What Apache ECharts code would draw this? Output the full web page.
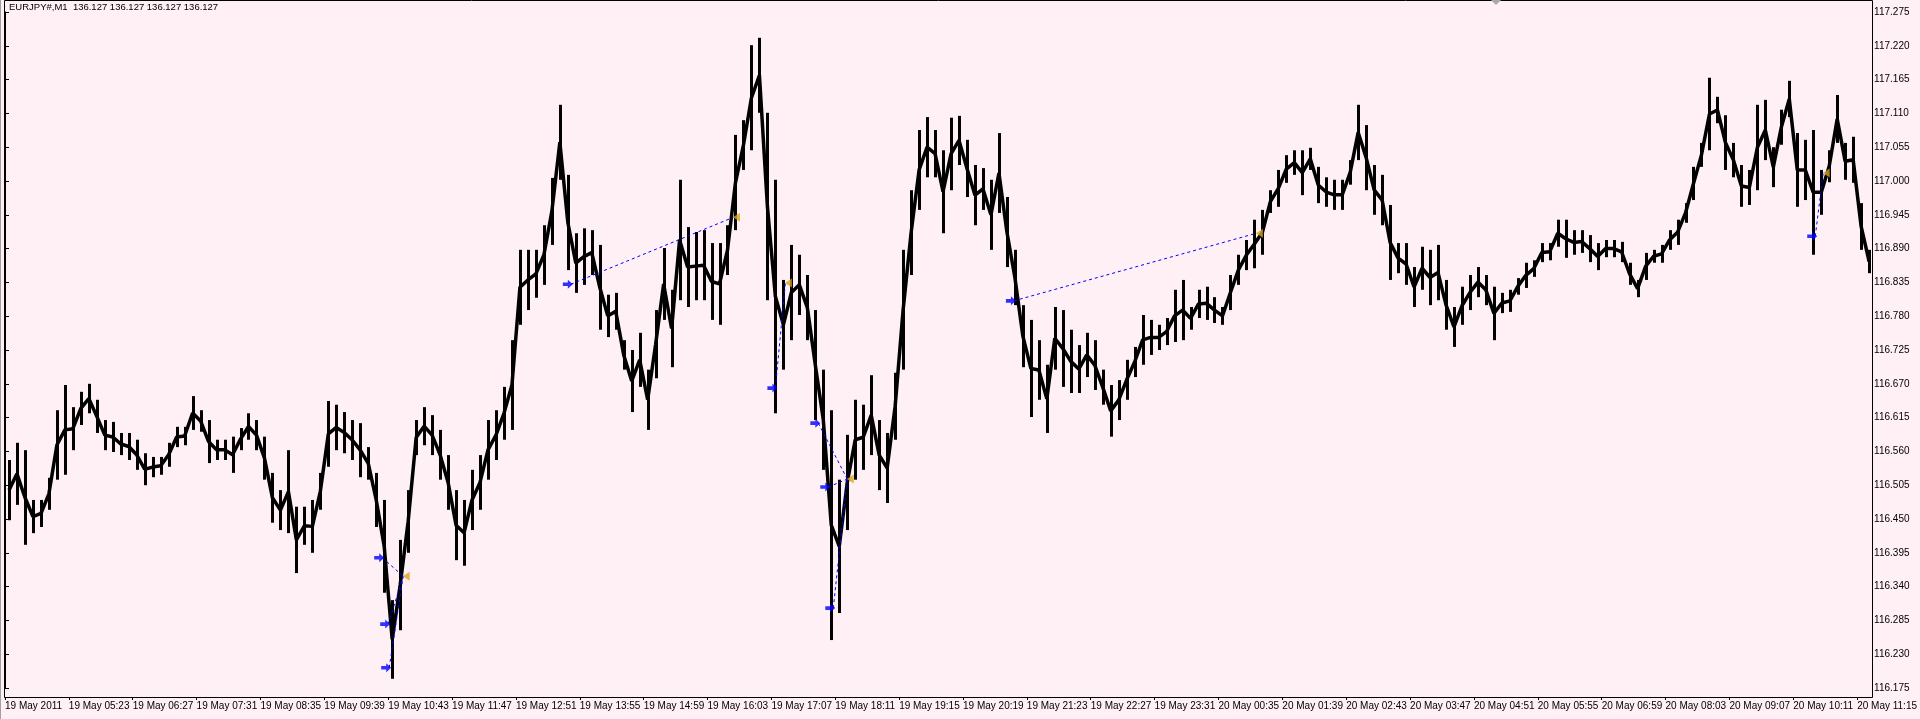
<!DOCTYPE html>
<html><head><meta charset="utf-8">
<script src="https://cdn.jsdelivr.net/npm/echarts@6/dist/echarts.min.js"></script>
<style>html,body{margin:0;padding:0;background:#FFF0F5;}#c{width:1920px;height:719px;}</style>
</head><body><div id="c"></div>
<script>
// Bars per sample (M1 bars), each sample gives high/low envelope
const samplesStep = 8;
const hi = [116.546,116.574,116.562,116.481,116.481,116.517,116.627,116.668,116.632,116.657,116.670,116.644,116.611,116.608,116.590,116.590,116.579,116.557,116.551,116.551,
116.574,116.600,116.600,116.650,116.627,116.611,116.579,116.579,116.584,116.598,116.622,116.611,116.584,116.525,116.497,116.562,116.470,116.470,116.481,116.525,
116.642,116.636,116.624,116.611,116.606,116.567,116.525,116.481,116.318,116.416,116.497,116.611,116.632,116.619,116.595,116.554,116.497,116.481,116.530,116.554,
116.611,116.627,116.665,116.741,116.888,116.888,116.888,116.928,117.005,117.124,117.010,116.915,116.923,116.920,116.896,116.815,116.818,116.741,116.725,116.753,
116.693,116.790,116.891,116.823,117.002,116.925,116.917,116.920,116.899,116.899,116.928,117.075,117.099,117.221,117.233,117.111,117.002,116.839,116.896,116.880,
116.847,116.790,116.693,116.627,116.514,116.587,116.644,116.636,116.684,116.611,116.590,116.688,116.888,116.985,117.083,117.104,117.083,117.050,117.103,117.106,
117.067,117.026,117.021,117.002,117.078,116.974,116.888,116.798,116.774,116.741,116.701,116.795,116.790,116.758,116.733,116.753,116.741,116.693,116.668,116.676,
116.709,116.730,116.782,116.774,116.766,116.777,116.823,116.839,116.795,116.823,116.828,116.811,116.795,116.847,116.880,116.904,116.937,116.953,116.985,117.018,
117.042,117.050,117.050,117.054,117.023,117.006,117.002,117.002,117.034,117.124,117.091,117.026,117.010,116.961,116.899,116.899,116.860,116.893,116.888,116.896,
116.839,116.795,116.828,116.847,116.860,116.847,116.828,116.818,116.823,116.842,116.867,116.871,116.899,116.899,116.937,116.937,116.920,116.920,116.912,116.899,
116.904,116.904,116.901,116.867,116.839,116.883,116.888,116.896,116.920,116.937,116.964,117.023,117.062,117.168,117.137,117.107,117.062,117.026,117.018,117.124,
117.132,117.055,117.116,117.163,117.078,117.067,117.083,117.018,117.050,117.140,117.062,117.072,116.964,116.888];
const lo = [116.448,116.473,116.408,116.427,116.437,116.465,116.514,116.522,116.562,116.603,116.622,116.590,116.562,116.559,116.554,116.546,116.530,116.505,116.518,116.522,
116.535,116.567,116.570,116.595,116.592,116.541,116.546,116.546,116.525,116.562,116.579,116.562,116.514,116.444,116.432,116.427,116.362,116.408,116.395,116.465,
116.535,116.562,116.557,116.546,116.518,116.514,116.437,116.330,116.190,116.269,116.395,116.554,116.570,116.554,116.514,116.465,116.383,116.374,116.432,116.465,
116.514,116.546,116.579,116.595,116.766,116.790,116.810,116.831,116.896,117.002,116.855,116.818,116.831,116.847,116.758,116.746,116.758,116.693,116.624,116.665,
116.595,116.679,116.774,116.697,116.806,116.795,116.806,116.806,116.774,116.766,116.847,116.920,117.018,117.050,117.111,116.806,116.622,116.693,116.741,116.782,
116.741,116.611,116.530,116.253,116.297,116.432,116.514,116.530,116.554,116.497,116.476,116.579,116.693,116.847,116.953,117.006,117.006,116.915,116.985,117.026,
116.974,116.928,116.953,116.888,116.948,116.860,116.798,116.697,116.616,116.644,116.590,116.693,116.665,116.655,116.655,116.681,116.660,116.636,116.584,116.611,
116.644,116.681,116.701,116.717,116.725,116.733,116.738,116.741,116.758,116.777,116.774,116.769,116.766,116.790,116.831,116.855,116.858,116.880,116.948,116.958,
116.997,117.010,116.977,117.018,116.964,116.958,116.953,116.953,116.994,117.034,116.985,116.945,116.928,116.839,116.850,116.831,116.795,116.823,116.798,116.806,
116.758,116.730,116.766,116.790,116.811,116.798,116.741,116.785,116.787,116.815,116.826,116.844,116.868,116.871,116.893,116.875,116.880,116.883,116.868,116.855,
116.876,116.876,116.868,116.831,116.811,116.839,116.867,116.867,116.888,116.896,116.932,116.969,117.023,117.050,117.094,117.018,117.006,116.958,116.961,116.985,
117.034,116.990,117.059,117.104,116.958,116.969,116.880,116.945,116.998,117.062,117.002,116.997,116.888,116.850];

const xLabels = ['19 May 2011','19 May 05:23','19 May 06:27','19 May 07:31','19 May 08:35','19 May 09:39','19 May 10:43','19 May 11:47',
'19 May 12:51','19 May 13:55','19 May 14:59','19 May 16:03','19 May 17:07','19 May 18:11','19 May 19:15','19 May 20:19','19 May 21:23',
'19 May 22:27','19 May 23:31','20 May 00:35','20 May 01:39','20 May 02:43','20 May 03:47','20 May 04:51','20 May 05:55','20 May 06:59',
'20 May 08:03','20 May 09:07','20 May 10:11','20 May 11:15'];
const barsPerLabel = 64;
const yTicks = [116.175,116.230,116.285,116.340,116.395,116.450,116.505,116.560,116.615,116.670,116.725,116.780,116.835,116.890,116.945,117.000,117.055,117.110,117.165,117.220,117.275];

// Trade markers: open (blue arrow) -> close (gold triangle)
const openBar   = [378, 384, 385, 567, 772, 815, 825, 830, 1011, 1814];
const openPrice = [116.387,116.279,116.208,116.832,116.663,116.606,116.502,116.305,116.805,116.910];
const closeBar  = [399, 399, 399, 730, 782, 844, 844, 844, 1254, 1822];
const closePrice= [116.357,116.357,116.357,116.941,116.834,116.515,116.515,116.515,116.915,117.013];

const titleText = 'EURJPY#,M1  136.127 136.127 136.127 136.127';

const bars = hi.map((h, k) => [k * samplesStep + samplesStep / 2, h, lo[k]]);
const mid = hi.map((h, k) => [k * samplesStep + samplesStep / 2, (h + lo[k]) / 2]);
const tradeLines = openBar.map((b, i) => ({coords: [[b, openPrice[i]], [closeBar[i], closePrice[i]]]}));
const opens = openBar.map((b, i) => [b, openPrice[i]]);
const closesSeen = {};
const closes = [];
closeBar.forEach((b, i) => { const key = b + '_' + closePrice[i]; if (!closesSeen[key]) { closesSeen[key] = 1; closes.push([b, closePrice[i]]); } });

function renderBar(params, api) {
  const x = api.value(0);
  const p1 = api.coord([x, api.value(1)]);
  const p2 = api.coord([x, api.value(2)]);
  return {type: 'line', shape: {x1: Math.round(p1[0]) + 0.5, y1: p1[1], x2: Math.round(p2[0]) + 0.5, y2: p2[1]},
    style: {stroke: '#000', lineWidth: 3}};
}

const FONT = 'Liberation Sans';
const chart = echarts.init(document.getElementById('c'), null, {renderer: 'canvas'});
chart.setOption({
  backgroundColor: '#FFF0F5',
  animation: false,
  grid: {left: 5, right: 48, top: 12, bottom: 31, containLabel: false},
  xAxis: {
    type: 'value', min: 0, max: 1867, offset: 9,
    axisLine: {show: true, lineStyle: {color: '#000', width: 1}},
    axisTick: {show: true, length: 3, lineStyle: {color: '#000'}, customValues: xLabels.map((_, i) => i * barsPerLabel)},
    axisLabel: {show: true, customValues: xLabels.map((_, i) => i * barsPerLabel), align: 'left', margin: 4,
      fontFamily: FONT, fontSize: 10, color: '#000',
      formatter: v => xLabels[Math.round(v / barsPerLabel)] || ''},
    splitLine: {show: false}
  },
  yAxis: {
    type: 'value', position: 'right', min: 116.175, max: 117.275,
    axisLine: {show: true, lineStyle: {color: '#000', width: 1}},
    axisTick: {show: true, length: 4, lineStyle: {color: '#000'}, customValues: yTicks},
    axisLabel: {show: true, customValues: yTicks, margin: 6, fontFamily: FONT, fontSize: 10, color: '#000',
      formatter: v => v.toFixed(3)},
    splitLine: {show: false}
  },
  series: [
    {type: 'custom', renderItem: renderBar, data: bars, encode: {x: 0, y: [1, 2]}, z: 2, silent: true},
    {type: 'line', data: mid, showSymbol: false, symbol: 'none', lineStyle: {color: '#000', width: 3.5}, z: 2, silent: true},
    {type: 'lines', coordinateSystem: 'cartesian2d', data: tradeLines, lineStyle: {color: '#0000FF', width: 1, type: [3, 3], opacity: 1}, z: 3},
    {type: 'scatter', data: opens, symbol: 'path://M0,3 L5,3 L5,0 L10,5 L5,10 L5,7 L0,7 Z', symbolSize: [10, 9], symbolOffset: [-3, 0],
      itemStyle: {color: '#0000FF'}, z: 4},
    {type: 'scatter', data: closes, symbol: 'path://M10,0 L10,10 L0,5 Z', symbolSize: [7, 9], symbolOffset: [3, 0],
      itemStyle: {color: '#DAA520'}, z: 4}
  ],
  graphic: [
    {type: 'rect', shape: {x: 4.5, y: 0.5, width: 1868, height: 697}, style: {fill: null, stroke: '#000', lineWidth: 1}, z: 10},
    {type: 'line', shape: {x1: 0.5, y1: 0, x2: 0.5, y2: 719}, style: {stroke: '#A0A0A0', lineWidth: 1}, z: 10},
    {type: 'text', left: 9, top: 2, style: {text: titleText, font: '9.5px "' + FONT + '"', fill: '#000'}, z: 10},
    {type: 'polygon', shape: {points: [[1491, 0], [1501, 0], [1496, 5]]}, style: {fill: '#A8A8A8'}, z: 10}
  ]
});
</script></body></html>
